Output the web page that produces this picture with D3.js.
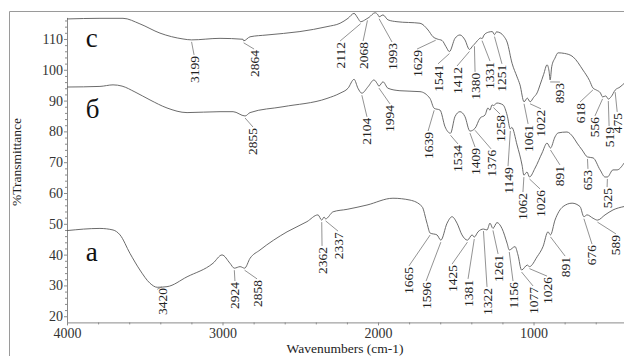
<!DOCTYPE html>
<html>
<head>
<meta charset="utf-8">
<script src="https://cdn.jsdelivr.net/npm/d3@7"></script>
<style>
  body { margin: 0; background: #fff; }
  svg { display: block; }
</style>
</head>
<body>
<div id="chart"></div>
<script>
// spectrum "c" (top)
const cWave = [4000, 3788, 3640, 3531, 3402, 3254, 3199, 3016, 2868, 2864, 2823, 2714, 2502, 2328, 2244, 2193, 2154, 2129, 2112, 2077, 2058, 2019, 2000, 1993, 1968, 1936, 1878, 1730, 1678, 1646, 1620, 1588, 1563, 1541, 1505, 1473, 1441, 1412, 1390, 1380, 1360, 1340, 1331, 1318, 1290, 1265, 1251, 1238, 1215, 1190, 1170, 1138, 1106, 1087, 1061, 1040, 1022, 1000, 977, 958, 935, 913, 900, 893, 883, 862, 842, 800, 746, 682, 640, 618, 595, 570, 556, 535, 519, 500, 475, 444, 415];
const cT = [116.5, 116.7, 116.7, 114.9, 111.9, 110.0, 109.7, 110.2, 109.9, 109.4, 110.7, 111.3, 112.4, 114.0, 115.1, 116.7, 118.3, 116.7, 115.6, 116.4, 117.0, 118.5, 117.8, 117.2, 117.8, 116.2, 115.6, 115.1, 112.9, 110.7, 110.0, 109.5, 107.5, 105.9, 110.2, 111.3, 109.7, 106.6, 107.8, 108.3, 109.5, 110.3, 110.1, 111.3, 112.2, 112.4, 111.4, 112.3, 112.0, 110.8, 109.0, 102.1, 97.7, 95.1, 89.6, 90.8, 89.6, 91.0, 92.5, 95.1, 98.5, 101.6, 99.5, 96.7, 101.0, 103.8, 105.5, 105.3, 104.2, 99.9, 96.5, 94.1, 93.4, 92.5, 91.2, 91.5, 90.5, 91.3, 93.4, 94.4, 95.7];

// spectrum "б" (middle)
const bWave = [4000, 3788, 3704, 3646, 3563, 3466, 3357, 3228, 3016, 2932, 2855, 2823, 2611, 2328, 2244, 2193, 2154, 2129, 2104, 2064, 2026, 2006, 1994, 1968, 1936, 1859, 1730, 1666, 1639, 1601, 1569, 1534, 1505, 1473, 1441, 1409, 1376, 1344, 1312, 1293, 1280, 1267, 1258, 1235, 1196, 1170, 1149, 1140, 1106, 1074, 1062, 1042, 1026, 990, 945, 913, 891, 862, 842, 785, 746, 720, 688, 653, 617, 572, 540, 525, 489, 463, 418];
const bT = [94.4, 94.6, 95.1, 94.7, 92.8, 90.2, 87.6, 86.1, 86.4, 86.4, 85.0, 86.1, 88.0, 90.7, 92.4, 94.0, 96.9, 94.0, 92.4, 94.5, 96.7, 95.6, 94.7, 96.1, 94.0, 93.2, 92.9, 90.7, 87.5, 86.9, 81.5, 79.4, 84.8, 86.4, 84.8, 80.1, 81.0, 84.3, 85.3, 87.6, 86.9, 88.6, 88.4, 89.2, 88.6, 85.3, 80.8, 81.3, 75.6, 69.1, 65.8, 66.8, 65.2, 68.1, 73.0, 76.2, 74.6, 78.2, 79.5, 79.8, 78.2, 76.2, 74.0, 71.7, 71.4, 67.5, 65.2, 65.2, 67.5, 67.5, 69.7];

// spectrum "а" (bottom)
const aWave = [4000, 3788, 3704, 3659, 3595, 3531, 3466, 3420, 3357, 3228, 3061, 3003, 2952, 2924, 2887, 2858, 2823, 2759, 2585, 2457, 2386, 2362, 2347, 2337, 2289, 2199, 2071, 1904, 1794, 1717, 1685, 1665, 1621, 1596, 1556, 1524, 1492, 1460, 1425, 1395, 1381, 1357, 1322, 1299, 1280, 1261, 1235, 1203, 1170, 1156, 1119, 1100, 1077, 1040, 1026, 977, 939, 907, 891, 862, 810, 752, 701, 676, 656, 617, 589, 540, 489, 418];
const aT = [47.8, 48.5, 48.0, 46.4, 40.4, 35.0, 30.7, 29.4, 29.6, 32.8, 37.2, 39.9, 37.2, 35.6, 36.1, 35.6, 38.8, 41.5, 47.4, 50.7, 52.9, 51.2, 52.2, 51.6, 53.9, 54.7, 56.1, 58.3, 57.7, 55.6, 50.2, 47.0, 46.4, 44.7, 50.2, 52.3, 50.2, 46.4, 44.7, 46.4, 45.7, 47.4, 48.3, 48.0, 50.2, 48.5, 50.4, 48.5, 43.7, 41.5, 42.6, 39.9, 35.0, 36.6, 36.1, 39.3, 42.6, 47.4, 46.4, 51.2, 55.6, 56.7, 55.6, 52.3, 52.9, 51.8, 51.2, 52.9, 54.5, 55.6];

// peak labels: text, where the label sits (wavenumber), top of label (%T)
const cPeaks = ["3199", "2864", "2112", "2068", "1993", "1629", "1541", "1412", "1380", "1331", "1251", "1061", "1022", "893", "618", "556", "519", "475"];
const cPeakAt = [3183, 2797, 2244, 2096, 1910, 1749, 1614, 1492, 1376, 1280, 1203, 1035, 952, 830, 701, 605, 514, 462];
const cPeakTop = [104.5, 106.4, 109.0, 109.0, 108.7, 106.4, 101.6, 100.9, 99.0, 102.5, 101.6, 82.1, 87.0, 95.7, 89.2, 84.7, 81.4, 86.0];

const bPeaks = ["2855", "2104", "1994", "1639", "1534", "1409", "1376", "1258", "1149", "1062", "1026", "891", "653", "525"];
const bPeakAt = [2804, 2071, 1923, 1678, 1486, 1376, 1273, 1215, 1164, 1068, 958, 830, 650, 527];
const bPeakTop = [81.1, 84.4, 88.6, 79.8, 75.6, 74.6, 74.0, 85.3, 68.4, 60.0, 61.0, 68.8, 67.5, 61.6];

const aPeaks = ["3420", "2924", "2858", "2362", "2337", "1665", "1596", "1425", "1381", "1322", "1261", "1156", "1077", "1026", "891", "676", "589"];
const aPeakAt = [3389, 2920, 2778, 2360, 2257, 1801, 1691, 1524, 1421, 1299, 1228, 1132, 1003, 913, 797, 624, 470];
const aPeakTop = [29.2, 31.1, 31.8, 42.5, 47.3, 36.0, 31.1, 36.6, 31.8, 29.2, 39.9, 31.1, 29.5, 32.7, 39.2, 43.1, 46.4];

const yTicks = [20, 30, 40, 50, 60, 70, 80, 90, 100, 110];
const xTicks = [4000, 3000, 2000, 1000];

const width = 624, height = 356;
const serif = "'Liberation Serif', 'Times New Roman', serif";

const svg = d3.select("#chart").append("svg")
  .attr("width", width)
  .attr("height", height)
  .attr("font-family", serif);

const x = d3.scaleLinear().domain([4000, 415]).range([67, 624.5]);
const y = d3.scaleLinear().domain([18, 117]).range([322.4, 17.4]);

// outer frame (left + top visible)
svg.append("path")
  .attr("d", `M9.5,${height} V11.5 H${width}`)
  .attr("fill", "none")
  .attr("stroke", "#9a9a9a");

// axes
const yAxis = svg.append("g")
  .attr("transform", "translate(67,0)")
  .call(d3.axisLeft(y).tickValues(yTicks).tickFormat(d3.format("d")).tickSize(3).tickPadding(1).tickSizeOuter(0));
const yMinor = svg.append("g")
  .attr("transform", "translate(67,0)")
  .call(d3.axisLeft(y).tickValues(d3.range(20, 117, 2).filter(v => v % 10)).tickSize(2).tickFormat(""));
yMinor.select(".domain").remove();

const xAxis = svg.append("g")
  .attr("transform", "translate(0,322.4)")
  .call(d3.axisBottom(x).tickValues(xTicks).tickFormat(d3.format("d")).tickSize(3).tickPadding(3).tickSizeOuter(0));
const xMinor = svg.append("g")
  .attr("transform", "translate(0,322.4)")
  .call(d3.axisBottom(x).tickValues(d3.range(3800, 415, -200).filter(v => v % 1000)).tickSize(2).tickFormat(""));
xMinor.select(".domain").remove();

[yAxis, yMinor, xAxis, xMinor].forEach(g => {
  g.attr("font-family", serif).attr("font-size", 14);
  g.selectAll("line,path").attr("stroke", "#8a8a8a");
  g.selectAll("text").attr("fill", "#333");
});

// axis titles
svg.append("text")
  .attr("x", 345).attr("y", 353)
  .attr("text-anchor", "middle")
  .attr("font-size", 13.5).attr("fill", "#222")
  .text("Wavenumbers (cm-1)");
svg.append("text")
  .attr("transform", "translate(21,162) rotate(-90)")
  .attr("text-anchor", "middle")
  .attr("font-size", 13.5).attr("fill", "#222")
  .text("%Transmittance");

const line = d3.line()
  .x(d => x(d[0]))
  .y(d => y(d[1]))
  .curve(d3.curveMonotoneX);

const spectra = [
  { name: "c", wave: cWave, t: cT, peaks: cPeaks, at: cPeakAt, top: cPeakTop, tag: [3880, 107.4] },
  { name: "б", wave: bWave, t: bT, peaks: bPeaks, at: bPeakAt, top: bPeakTop, tag: [3880, 84.4] },
  { name: "а", wave: aWave, t: aT, peaks: aPeaks, at: aPeakAt, top: aPeakTop, tag: [3880, 38.0] }
];

spectra.forEach(s => {
  svg.append("path")
    .datum(d3.zip(s.wave, s.t))
    .attr("fill", "none")
    .attr("stroke", "#5a5a5a")
    .attr("stroke-width", 0.9)
    .attr("d", line);

  // interpolate the curve at a wavenumber
  const at = d3.scaleLinear().domain(s.wave).range(s.t);

  s.peaks.forEach((p, i) => {
    const px = x(+p), py = y(at(+p)) + 2;
    const lx = x(s.at[i]), ly = y(s.top[i]) - 1;
    if (Math.hypot(lx - px, ly - py) > 4) {
      svg.append("line")
        .attr("x1", px).attr("y1", py)
        .attr("x2", lx).attr("y2", ly)
        .attr("stroke", "#777")
        .attr("stroke-width", 0.8);
    }
    svg.append("text")
      .attr("transform", `translate(${lx},${y(s.top[i])}) rotate(-90)`)
      .attr("text-anchor", "end")
      .attr("dominant-baseline", "central")
      .attr("font-size", 13.5)
      .attr("fill", "#222")
      .text(p);
  });

  svg.append("text")
    .attr("x", x(s.tag[0])).attr("y", y(s.tag[1]))
    .attr("font-size", 27)
    .attr("fill", "#111")
    .text(s.name);
});
</script>
</body>
</html>
